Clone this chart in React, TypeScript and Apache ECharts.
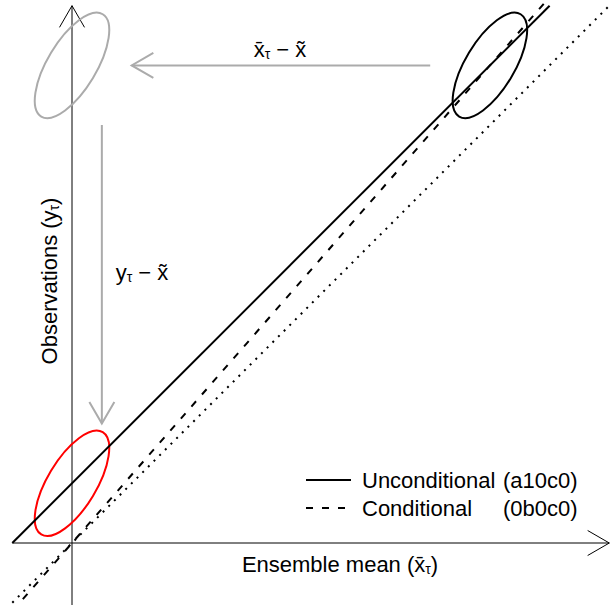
import React, { useEffect, useRef } from 'react';
import * as echarts from 'echarts';

// ---- data (axis units) ----
const unconditionalX = [-1, 8];
const unconditionalY = [0, 9];
const conditionalX = [-1, 8];
const conditionalY = [-1.143, 9.143];
const identityX = [-1, 9];
const identityY = [-1, 9];

const ellipseNames = ['Shifted ensemble', 'Ensemble', 'Observations'];
const ellipseCenterX = [0, 7, 0];
const ellipseCenterY = [8, 8, 1];
const ellipseSemiMajor = 1.0;
const ellipseSemiMinor = 0.41;
const ellipseTiltDeg = 59;

const axisFromX = [-1, 0];
const axisFromY = [0, -1.1];
const axisToX = [9, 0];
const axisToY = [0, 9];

const shiftFromX = [6, 0.5];
const shiftFromY = [8, 7];
const shiftToX = [1, 0.5];
const shiftToY = [8, 2];

const seriesNames = ['Unconditional (a10c0)', 'Conditional (0b0c0)'];

// ---- styles ----
const FONT = '"Liberation Sans", Arial, Helvetica, sans-serif';
const GRAY = '#ababab';
const ellipseColors = [GRAY, '#000000', '#ff0000'];
const X_MIN = -72 / 59.7;
const X_MAX = 541 / 59.7;
const Y_MIN = -62 / 59.7;
const Y_MAX = 543 / 59.7;

const zip = (a: number[], b: number[]) => a.map((v, i) => [v, b[i]]);
const zip4 = (a: number[], b: number[], c: number[], d: number[]) =>
  a.map((v, i) => [v, b[i], c[i], d[i]]);

const arrowRenderer = (color: string, width: number) => (params: any, api: any) => {
  const p1 = api.coord([api.value(0), api.value(1)]);
  const p2 = api.coord([api.value(2), api.value(3)]);
  const ang = Math.atan2(p2[1] - p1[1], p2[0] - p1[0]);
  const L = 25;
  const h = Math.PI / 6;
  const a1 = [p2[0] - L * Math.cos(ang - h), p2[1] - L * Math.sin(ang - h)];
  const a2 = [p2[0] - L * Math.cos(ang + h), p2[1] - L * Math.sin(ang + h)];
  return {
    type: 'group',
    children: [
      { type: 'line', shape: { x1: p1[0], y1: p1[1], x2: p2[0], y2: p2[1] }, style: { stroke: color, lineWidth: width } },
      { type: 'polyline', shape: { points: [a1, p2, a2] }, style: { stroke: color, lineWidth: width, fill: null } },
    ],
  };
};

const ellipseRenderer = (color: string) => (params: any, api: any) => {
  const c = api.coord([api.value(0), api.value(1)]);
  const unit = api.size([1, 1]);
  return {
    type: 'ellipse',
    x: c[0],
    y: c[1],
    rotation: (ellipseTiltDeg * Math.PI) / 180,
    shape: { cx: 0, cy: 0, rx: ellipseSemiMajor * unit[0], ry: ellipseSemiMinor * unit[1] },
    style: { stroke: color, lineWidth: 2, fill: null },
  };
};

const mainStyle = { fontSize: 22, fontFamily: FONT, fill: '#000' };
const subStyle = { fontSize: 14, fontFamily: FONT, fill: '#000', verticalAlign: 'top', padding: [10, 0, 0, 0] };
const rich = { m: mainStyle, s: subStyle };

export default function App() {
  const ref = useRef<HTMLDivElement>(null);
  useEffect(() => {
    if (!ref.current) return;
    const chart = echarts.init(ref.current, null, { renderer: 'svg' });
    const option: any = {
      animation: false,
      textStyle: { fontFamily: FONT },
      grid: { left: 0, right: 0, top: 0, bottom: 0 },
      xAxis: { type: 'value', min: X_MIN, max: X_MAX, show: false },
      yAxis: { type: 'value', min: Y_MIN, max: Y_MAX, show: false },
      legend: {
        data: seriesNames,
        orient: 'vertical',
        left: 300,
        top: 464,
        itemWidth: 45,
        itemHeight: 14,
        itemGap: 6,
        selectedMode: false,
        itemStyle: { opacity: 0 },
        textStyle: {
          fontFamily: FONT,
          fontSize: 22,
          color: '#000',
          rich: {
            n: { fontSize: 22, fontFamily: FONT, color: '#000', width: 141, padding: [0, 0, 0, 6] },
            c: { fontSize: 22, fontFamily: FONT, color: '#000' },
          },
        },
        formatter: (name: string) => {
          const i = name.indexOf(' (');
          return '{n|' + name.slice(0, i) + '}{c|' + name.slice(i + 1) + '}';
        },
      },
      series: [
        {
          name: seriesNames[0],
          type: 'line',
          data: zip(unconditionalX, unconditionalY),
          symbol: 'none',
          lineStyle: { color: '#000', width: 2 },
          itemStyle: { color: '#000' },
        },
        {
          name: seriesNames[1],
          type: 'line',
          data: zip(conditionalX, conditionalY),
          symbol: 'none',
          lineStyle: { color: '#000', width: 2, type: [7, 9], cap: 'butt' },
          itemStyle: { color: '#000' },
        },
        {
          name: 'Identity',
          type: 'line',
          data: zip(identityX, identityY),
          symbol: 'none',
          lineStyle: { color: '#000', width: 2, type: [2, 6], cap: 'butt' },
        },
        {
          name: 'Axes',
          type: 'custom',
          renderItem: arrowRenderer('#000', 1),
          data: zip4(axisFromX, axisFromY, axisToX, axisToY),
          silent: true,
        },
        {
          name: 'Shifts',
          type: 'custom',
          renderItem: arrowRenderer(GRAY, 2),
          data: zip4(shiftFromX, shiftFromY, shiftToX, shiftToY),
          silent: true,
        },
        ...ellipseNames.map((n, i) => ({
          name: n,
          type: 'custom',
          renderItem: ellipseRenderer(ellipseColors[i]),
          data: [[ellipseCenterX[i], ellipseCenterY[i]]],
          silent: true,
        })),
      ],
      graphic: [
        {
          type: 'text', x: 280, y: 49,
          style: { text: '{m|x\u0304}{s|\u03c4}{m| \u2212 x\u0303}', rich, align: 'center', verticalAlign: 'middle' },
        },
        {
          type: 'text', x: 142, y: 272,
          style: { text: '{m|y}{s|\u03c4}{m| \u2212 x\u0303}', rich, align: 'center', verticalAlign: 'middle' },
        },
        {
          type: 'text', x: 340, y: 564,
          style: { text: '{m|Ensemble mean (x\u0304}{s|\u03c4}{m|)}', rich, align: 'center', verticalAlign: 'middle' },
        },
        {
          type: 'text', x: 49, y: 281, rotation: Math.PI / 2,
          style: { text: '{m|Observations (y}{s|\u03c4}{m|)}', rich, align: 'center', verticalAlign: 'middle' },
        },
      ],
    };
    chart.setOption(option);
    return () => chart.dispose();
  }, []);
  return <div ref={ref} style={{ position: 'absolute', left: 0, top: 0, width: 613, height: 605, background: '#fff' }} />;
}
